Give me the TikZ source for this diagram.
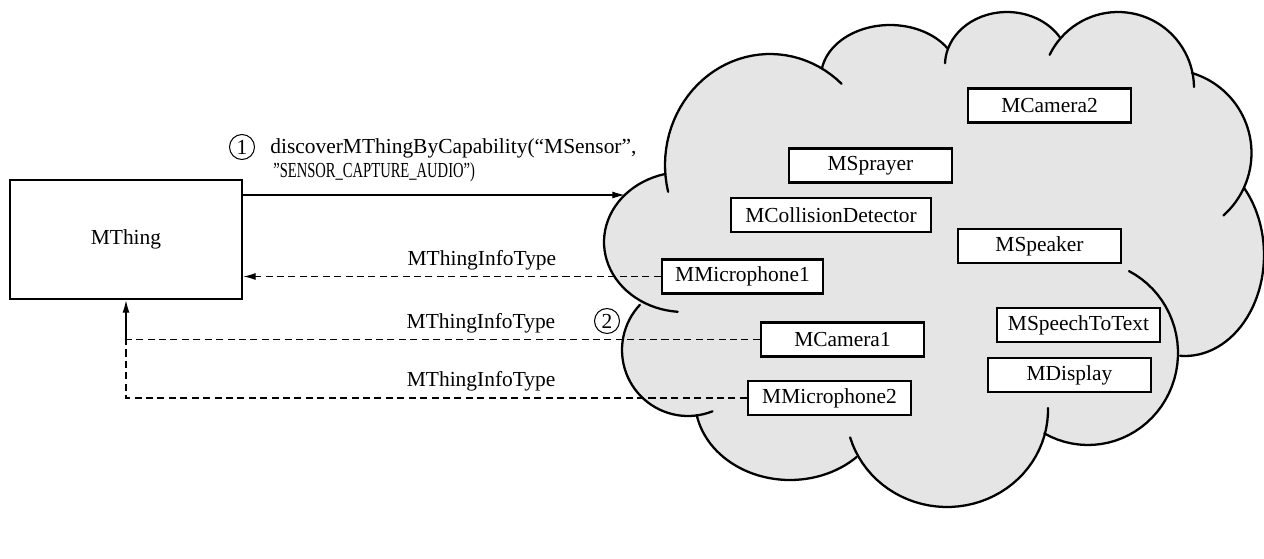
\documentclass[tikz,border=0pt]{standalone}
\usepackage{fontspec}
\setmainfont{Liberation Serif}
\newfontfamily\narrowcaps[FakeStretch=0.68]{Liberation Serif}
\usetikzlibrary{arrows.meta}

\begin{document}
\begin{tikzpicture}[x=0.02cm,y=-0.02cm,samples=40,
  every node/.style={font=\fontsize{12.2pt}{14.6pt}\selectfont},
  cloudfill/.style={fill=black!10},
  cloudline/.style={line width=1.3pt,line cap=round},
  dev/.style={draw,fill=white,line width=1.3pt,minimum width=3.26cm,
              minimum height=0.68cm,inner sep=0pt},
  thingbox/.style={draw,fill=white,line width=1.6pt,minimum width=4.64cm,
                   minimum height=2.38cm},
  callarrow/.style={line width=0.6pt,-{Latex[length=7pt,width=4pt]}},
  replyline/.style={line width=0.6pt,dash pattern=on 4pt off 2.5pt},
  replyarrow/.style={callarrow,dash pattern=on 4pt off 2.5pt},
  stepno/.style={circle,draw,line width=0.6pt,minimum size=0.5cm,inner sep=0pt},
  infolabel/.style={anchor=base,yshift=6.3pt,inner sep=0pt},
  calltext/.style={anchor=base west,inner sep=0pt}
]
\useasboundingbox (0,0) rectangle (1264,558);

% --- cloud body: bumps joined at their crossing points ---
\fill[cloudfill]
     plot[domain=175:298.6]   ({770+105*cos(\x)},{165+111*sin(\x)})
  -- plot[domain=190:326.4]   ({890+69*cos(\x)},{77+52*sin(\x)})
  -- plot[domain=198.6:328.3] ({1007+62*cos(\x)},{65+53*sin(\x)})
  -- plot[domain=221.3:348.5] ({1118+76*cos(\x)},{88+76*sin(\x)})
  -- plot[domain=286.7:384.7] ({1168+83.5*cos(\x)},{153+83.5*sin(\x)})
  -- plot[domain=318.4:453.6] ({1185+79*cos(\x)},{255+101*sin(\x)})
  -- plot[domain=361.2:479.1] ({1088+90*cos(\x)},{353+92*sin(\x)})
  -- plot[domain=13.2:150.7]  ({947+101*cos(\x)},{410+97*sin(\x)})
  -- plot[domain=45.4:169.2]  ({790+95*cos(\x)},{400+80*sin(\x)})
  -- plot[domain=82.1:223.2]  ({688+66*cos(\x)},{350+66*sin(\x)})
  -- plot[domain=123.4:256.1] ({684+80*cos(\x)},{242+70*sin(\x)})
  -- cycle;

% --- cloud outline: each bump with its short inner tail ---
\draw[cloudline] plot[domain=166:313]     ({770+105*cos(\x)},{165+111*sin(\x)});
\draw[cloudline] plot[domain=190:326.4]   ({890+69*cos(\x)},{77+52*sin(\x)});
\draw[cloudline] plot[domain=182:328.3]   ({1007+62*cos(\x)},{65+53*sin(\x)});
\draw[cloudline] plot[domain=205.9:359.2] ({1118+76*cos(\x)},{88+76*sin(\x)});
\draw[cloudline] plot[domain=286.7:408.4] ({1168+83.5*cos(\x)},{153+83.5*sin(\x)});
\draw[cloudline] plot[domain=318.4:453.6] ({1185+79*cos(\x)},{255+101*sin(\x)});
\draw[cloudline] plot[domain=297.1:479.1] ({1088+90*cos(\x)},{353+92*sin(\x)});
\draw[cloudline] plot[domain=-1.2:163.6]  ({947+101*cos(\x)},{410+97*sin(\x)});
\draw[cloudline] plot[domain=45.4:169.2]  ({790+95*cos(\x)},{400+80*sin(\x)});
\draw[cloudline] plot[domain=68.2:223.2]  ({688+66*cos(\x)},{350+66*sin(\x)});
\draw[cloudline] plot[domain=94.5:256.1]  ({684+80*cos(\x)},{242+70*sin(\x)});

% --- things inside the cloud ---
\node[dev] (cam2)    at (1049.5,105.5) {MCamera2};
\node[dev] (sprayer) at (870.5,165.5)  {MSprayer};
\node[dev,minimum width=4cm] (collision) at (831,215) {MCollisionDetector};
\node[dev] (speaker) at (1039.5,246)   {MSpeaker};
\node[dev,minimum width=3.22cm] (mic1) at (742.5,276.5) {MMicrophone1};
\node[dev] (cam1)    at (842.5,339.5)  {MCamera1};
\node[dev] (mic2)    at (829.5,398)    {MMicrophone2};
\node[dev] (s2t)     at (1078.5,325)   {MSpeechToText};
\node[dev] (display) at (1069.5,375)   {MDisplay};

% --- the requesting thing ---
\node[thingbox] (thing) at (126,239.5) {MThing};

% --- step 1: discovery request ---
\coordinate (cloudin) at (624.7,195);
\draw[callarrow] (thing.east |- cloudin) -- (cloudin);
\node[stepno] (s1) at (242,147) {1};
\node[calltext] (call1) at (270,153) {discoverMThingByCapability(“MSensor”,};
\node[calltext,font=\fontsize{12.2pt}{14.6pt}\narrowcaps] (call2) at (273,177)
  {”SENSOR\_CAPTURE\_AUDIO”)};

% --- step 2: replies ---
\node[stepno] (s2) at (607,321) {2};
\draw[replyarrow] (mic1.west) -- node[infolabel,pos=0.4286] (info1) {MThingInfoType}
  (mic1.west -| thing.east);
\coordinate (merge) at (cam1.west -| thing.south);
\draw[replyline] (cam1.west) -- node[infolabel,pos=0.44] (info2) {MThingInfoType}
  (merge);
\draw[replyline] (mic2.west) -- node[infolabel,pos=0.428] (info3) {MThingInfoType}
  (mic2.west -| merge) -- (merge);
\draw[callarrow] (merge) -- (thing.south);
\end{tikzpicture}
\end{document}
